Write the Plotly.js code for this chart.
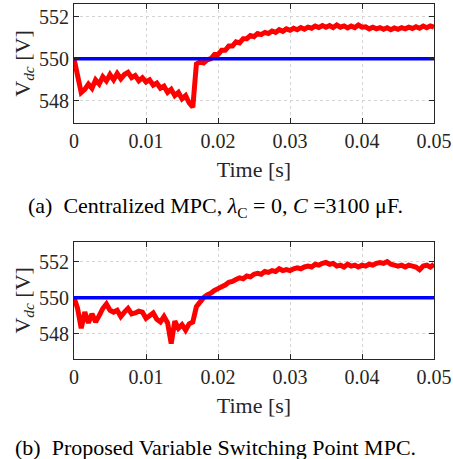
<!DOCTYPE html>
<html>
<head>
<meta charset="utf-8">
<script src="https://cdn.plot.ly/plotly-3.0.1.min.js"></script>
<style>html,body{margin:0;padding:0;background:#fff;}#chart{width:453px;height:459px;}</style>
</head>
<body>
<div id="chart"></div>
<script>
// time axis (s), sampled every 0.5 ms
const time = [0,0.0005,0.001,0.0015,0.002,0.0025,0.003,0.0035,0.004,0.0045,0.005,0.0055,0.006,0.0065,0.007,0.0075,0.008,0.0085,0.009,0.0095,
0.010,0.0105,0.011,0.0115,0.012,0.0125,0.013,0.0135,0.014,0.0145,0.015,0.0155,0.016,0.0165,0.017,0.0175,0.018,0.0185,0.019,0.0195,
0.020,0.0205,0.021,0.0215,0.022,0.0225,0.023,0.0235,0.024,0.0245,0.025,0.0255,0.026,0.0265,0.027,0.0275,0.028,0.0285,0.029,0.0295,
0.030,0.0305,0.031,0.0315,0.032,0.0325,0.033,0.0335,0.034,0.0345,0.035,0.0355,0.036,0.0365,0.037,0.0375,0.038,0.0385,0.039,0.0395,
0.040,0.0405,0.041,0.0415,0.042,0.0425,0.043,0.0435,0.044,0.0445,0.045,0.0455,0.046,0.0465,0.047,0.0475,0.048,0.0485,0.049,0.0495,0.050];

// (a) Centralized MPC: measured Vdc [V]
const vdcCentralized = [550.0,549.2,548.4,548.55,548.8,548.6,549.0,548.8,549.15,548.95,549.25,549.0,549.3,549.05,549.25,549.35,549.1,549.2,548.95,549.1,
548.9,549.0,548.75,548.85,548.6,548.7,548.4,548.55,548.25,548.4,548.1,548.25,547.9,547.7,549.75,549.85,549.8,549.95,550.0,550.2,
550.2,550.4,550.4,550.6,550.6,550.8,550.75,550.95,550.95,551.1,551.05,551.2,551.15,551.25,551.2,551.32,551.25,551.38,551.3,551.42,
551.35,551.45,551.38,551.48,551.4,551.5,551.45,551.55,551.48,551.58,551.5,551.58,551.48,551.6,551.5,551.56,551.46,551.55,551.48,551.6,
551.5,551.52,551.42,551.5,551.42,551.48,551.4,551.47,551.38,551.46,551.4,551.48,551.42,551.5,551.44,551.52,551.45,551.55,551.47,551.56,551.5];

// (b) Proposed Variable Switching Point MPC: measured Vdc [V]
const vdcProposed = [550.0,549.4,548.3,549.2,548.6,549.1,548.65,549.0,549.4,549.65,549.3,549.2,549.3,548.95,549.2,549.4,549.1,549.15,549.25,549.2,
548.85,549.0,549.15,548.8,548.65,548.95,548.6,547.45,548.7,548.3,548.5,548.2,548.55,548.65,549.5,549.75,550.0,550.15,550.25,550.4,
550.5,550.6,550.7,550.85,550.9,551.0,551.1,551.05,551.2,551.15,551.3,551.35,551.3,551.45,551.4,551.5,551.45,551.6,551.5,551.55,
551.5,551.6,551.65,551.6,551.7,551.75,551.7,551.85,551.8,551.9,551.95,551.85,551.9,551.75,551.8,551.7,551.85,551.75,551.8,551.7,
551.8,551.75,551.85,551.8,551.9,551.95,551.9,552.0,551.85,551.8,551.75,551.8,551.7,551.8,551.75,551.7,551.55,551.75,551.8,551.7,551.85];

// reference Vdc [V]
const vdcRefTime = [0, 0.05];
const vdcRef = [550, 550];

const xTickVals = [0, 0.01, 0.02, 0.03, 0.04, 0.05];
const xTickText = ["0", "0.01", "0.02", "0.03", "0.04", "0.05"];
const yTickVals = [548, 550, 552];
const yTickText = ["548", "550", "552"];

const captionA = "(a)&nbsp;&nbsp;Centralized&nbsp;MPC,&nbsp;<i>λ</i><sub>C</sub>&nbsp;=&nbsp;0,&nbsp;<i>C</i>&nbsp;=3100&nbsp;μF.";
const captionB = "(b)&nbsp;&nbsp;Proposed Variable Switching Point MPC.";

const RED = "#ff0000", BLUE = "#0000ff";
const FONT = "Liberation Serif";

const traces = [
  {x: time, y: vdcCentralized, xaxis: "x", yaxis: "y", type: "scatter", mode: "lines",
   line: {color: RED, width: 5, simplify: false}, hoverinfo: "skip"},
  {x: vdcRefTime, y: vdcRef, xaxis: "x", yaxis: "y", type: "scatter", mode: "lines",
   line: {color: BLUE, width: 3.5}, hoverinfo: "skip"},
  {x: time, y: vdcProposed, xaxis: "x2", yaxis: "y2", type: "scatter", mode: "lines",
   line: {color: RED, width: 5, simplify: false}, hoverinfo: "skip"},
  {x: vdcRefTime, y: vdcRef, xaxis: "x2", yaxis: "y2", type: "scatter", mode: "lines",
   line: {color: BLUE, width: 3.5}, hoverinfo: "skip"}
];

function xAx(anchor) {
  return {
    anchor: anchor, domain: [0, 1], range: [0, 0.05],
    tickmode: "array", tickvals: xTickVals, ticktext: xTickText,
    ticks: "inside", ticklen: 5, tickwidth: 1, tickcolor: "#262626",
    showline: true, linecolor: "#262626", linewidth: 1, mirror: "ticks",
    showgrid: true, gridcolor: "#d4d4d4", griddash: "dot", gridwidth: 1,
    zeroline: false,
    tickfont: {family: FONT, size: 20, color: "#262626"},
    title: {text: "Time [s]", font: {family: FONT, size: 22, color: "#262626"}, standoff: 10}
  };
}
function yAx(anchor, domain, range) {
  return {
    anchor: anchor, domain: domain, range: range,
    tickmode: "array", tickvals: yTickVals, ticktext: yTickText,
    ticks: "inside", ticklen: 5, tickwidth: 1, tickcolor: "#262626",
    showline: true, linecolor: "#262626", linewidth: 1, mirror: "ticks",
    showgrid: true, gridcolor: "#d4d4d4", griddash: "dot", gridwidth: 1,
    zeroline: false,
    tickfont: {family: FONT, size: 20, color: "#262626"},
    title: {text: "V<sub><i>dc</i></sub> [V]", font: {family: FONT, size: 22, color: "#262626"}, standoff: 2}
  };
}

const layout = {
  width: 453, height: 459,
  margin: {l: 74, r: 19, t: 4, b: 100},
  paper_bgcolor: "#ffffff", plot_bgcolor: "#ffffff",
  showlegend: false,
  font: {family: FONT},
  xaxis: xAx("y"),
  yaxis: yAx("x", [0.6648, 1.0], [546.95, 552.6]),
  xaxis2: xAx("y2"),
  yaxis2: yAx("x2", [0, 0.3304], [546.6, 553.1]),
  annotations: [
    {text: captionA, xref: "paper", yref: "paper", x: 0.394, y: 0.428, xanchor: "center", yanchor: "middle",
     showarrow: false, font: {family: FONT, size: 22, color: "#000"}},
    {text: captionB, xref: "paper", yref: "paper", x: 0.394, y: -0.2507, xanchor: "center", yanchor: "middle",
     showarrow: false, font: {family: FONT, size: 22, color: "#000"}}
  ]
};

Plotly.newPlot("chart", traces, layout, {displayModeBar: false, staticPlot: true});
</script>
</body>
</html>
